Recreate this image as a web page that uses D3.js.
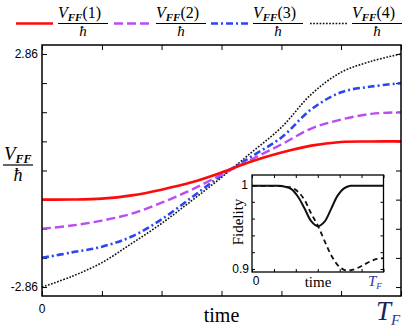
<!DOCTYPE html>
<html lang="en">
<head>
<meta charset="utf-8">
<title>VFF versus time</title>
<script src="https://cdn.jsdelivr.net/npm/d3@7"></script>
<style>
  body { margin: 0; background: #fff; }
  svg text { font-family: "Liberation Serif", "DejaVu Serif", serif; }
  .num { font-family: "Liberation Sans", Arial, sans-serif; font-size: 12px; }
</style>
</head>
<body>
<script>
// time as fraction of T_F
var timeFrac = [0, 0.083, 0.167, 0.25, 0.333, 0.417, 0.5, 0.583, 0.667, 0.75, 0.833, 0.917, 1];
var vff1 = [-0.715, -0.713, -0.69, -0.61, -0.47, -0.29, -0.05, 0.22, 0.44, 0.61, 0.70, 0.712, 0.715];
var vff2 = [-1.43, -1.35, -1.23, -1.06, -0.79, -0.47, -0.10, 0.27, 0.64, 1.03, 1.25, 1.39, 1.43];
var vff3 = [-2.145, -2.01, -1.87, -1.62, -1.20, -0.66, -0.12, 0.34, 0.81, 1.50, 1.92, 2.06, 2.145];
var vff4 = [-2.86, -2.60, -2.26, -1.79, -1.30, -0.74, -0.17, 0.44, 1.06, 1.87, 2.41, 2.68, 2.86];
var yTicks = [-2.86, -2.145, -1.43, -0.715, 0, 0.715, 1.43, 2.145, 2.86];
var xTicks = [0, 0.167, 0.333, 0.5, 0.667, 0.833, 1];

// inset: fidelity
var insetTime = [0, 0.05, 0.1, 0.15, 0.2, 0.25, 0.3, 0.35, 0.4, 0.45, 0.5, 0.55, 0.6, 0.65, 0.7, 0.75, 0.8, 0.85, 0.9, 0.95, 1];
var fidSolid = [0.999, 0.999, 0.999, 0.999, 0.999, 0.998, 0.995, 0.986, 0.972, 0.957, 0.951, 0.956, 0.971, 0.987, 0.996, 0.999, 0.999, 0.999, 0.999, 0.999, 0.999];
var fidDashed = [0.999, 0.999, 0.999, 0.999, 0.999, 0.998, 0.997, 0.992, 0.982, 0.966, 0.952, 0.934, 0.917, 0.905, 0.899, 0.8985, 0.901, 0.905, 0.909, 0.912, 0.913];
var insetYTicks = [0.9, 0.92, 0.94, 0.96, 0.98, 1];
var insetXTicks = [0, 0.167, 0.333, 0.5, 0.667, 0.833, 1];

var seriesNames = ["1", "2", "3", "4"];
var seriesData = [vff1, vff2, vff3, vff4];
var seriesColors = ["#ff0a0a", "#b94ef0", "#2b45f5", "#111111"];
var seriesDash = [null, "9,4", "7,3,2,3", "1.7,1.5"];
var seriesWidth = [2.6, 2.4, 2.6, 1.6];

var w = 408, h = 329;
var svg = d3.select("body").append("svg")
    .attr("width", w)
    .attr("height", h);

var x = d3.scaleLinear().domain([0, 1]).range([42, 401]);
var y = d3.scaleLinear().domain([-3.08, 3.08]).range([296, 45]);

// axes, ticks pointing inward on every side
function styleAxis(g) {
  g.select(".domain").remove();
  g.selectAll("line").attr("stroke", "#000").attr("stroke-width", 1);
  g.selectAll("text").remove();
}
svg.append("g").attr("transform", "translate(0,296)")
    .call(d3.axisBottom(x).tickValues(xTicks).tickSizeInner(-5).tickSizeOuter(0)).call(styleAxis);
svg.append("g").attr("transform", "translate(0,45)")
    .call(d3.axisTop(x).tickValues(xTicks).tickSizeInner(-5).tickSizeOuter(0)).call(styleAxis);
svg.append("g").attr("transform", "translate(42,0)")
    .call(d3.axisLeft(y).tickValues(yTicks).tickSizeInner(-5).tickSizeOuter(0)).call(styleAxis);
svg.append("g").attr("transform", "translate(401,0)")
    .call(d3.axisRight(y).tickValues(yTicks).tickSizeInner(-5).tickSizeOuter(0)).call(styleAxis);

// curves, red on top
var line = d3.line()
    .x(function (d) { return x(d[0]); })
    .y(function (d) { return y(d[1]); })
    .curve(d3.curveCatmullRom.alpha(0.5));

[3, 2, 1, 0].forEach(function (k) {
  var pts = timeFrac.map(function (t, i) { return [t, seriesData[k][i]]; });
  svg.append("path")
      .attr("d", line(pts))
      .attr("fill", "none")
      .attr("stroke", seriesColors[k])
      .attr("stroke-width", seriesWidth[k])
      .attr("stroke-dasharray", seriesDash[k]);
});

svg.append("rect")
    .attr("x", 42).attr("y", 45)
    .attr("width", 359).attr("height", 251)
    .attr("fill", "none").attr("stroke", "#000").attr("stroke-width", 1.5);

// tick labels
svg.append("text").attr("class", "num").attr("x", 38).attr("y", y(2.86) + 4)
    .attr("text-anchor", "end").text("2.86");
svg.append("text").attr("class", "num").attr("x", 38).attr("y", y(-2.86) + 4)
    .attr("text-anchor", "end").text("-2.86");
svg.append("text").attr("class", "num").attr("x", x(0)).attr("y", 313)
    .attr("text-anchor", "middle").text("0");
svg.append("text").attr("x", x(0.5)).attr("y", 322)
    .attr("text-anchor", "middle").attr("font-size", "20px").text("time");
var tf = svg.append("text").attr("x", 376).attr("y", 320)
    .attr("font-size", "27px").attr("font-style", "italic").attr("fill", "#1d2355");
tf.append("tspan").text("T");
tf.append("tspan").attr("font-size", "15px").attr("dy", 5).attr("fill", "#2a3aa0").text("F");

// y label: VFF over hbar
var yl = svg.append("text").attr("x", 4).attr("y", 160).attr("font-size", "19px");
yl.append("tspan").attr("font-style", "italic").text("V");
yl.append("tspan").attr("font-style", "italic").attr("font-weight", "bold")
    .attr("font-size", "12px").attr("dy", 3).text("FF");
svg.append("line").attr("x1", 3).attr("x2", 33).attr("y1", 165).attr("y2", 165)
    .attr("stroke", "#000").attr("stroke-width", 1.2);
svg.append("text").attr("x", 18).attr("y", 181).attr("text-anchor", "middle")
    .attr("font-size", "18px").attr("font-style", "italic").text("ħ");

// legend
var legendX = [16, 114, 211, 310];
seriesNames.forEach(function (name, k) {
  var lx = legendX[k];
  svg.append("line")
      .attr("x1", lx).attr("x2", lx + 37).attr("y1", 23.5).attr("y2", 23.5)
      .attr("stroke", seriesColors[k])
      .attr("stroke-width", seriesWidth[k])
      .attr("stroke-dasharray", seriesDash[k]);
  var fx = lx + 42;
  var t = svg.append("text").attr("x", fx).attr("y", 18).attr("font-size", "16px");
  t.append("tspan").attr("font-style", "italic").text("V");
  t.append("tspan").attr("font-style", "italic").attr("font-weight", "bold")
      .attr("font-size", "11px").attr("dy", 3).text("FF");
  t.append("tspan").attr("dy", -3).text("(" + name + ")");
  svg.append("line").attr("x1", fx).attr("x2", fx + 50).attr("y1", 23.5).attr("y2", 23.5)
      .attr("stroke", "#000").attr("stroke-width", 1);
  svg.append("text").attr("x", fx + 25).attr("y", 36).attr("text-anchor", "middle")
      .attr("font-size", "15px").attr("font-style", "italic").text("ħ");
});

// inset
var ix = d3.scaleLinear().domain([0, 1]).range([252, 383.5]);
var iy = d3.scaleLinear().domain([0.8964, 1.0119]).range([272, 175]);
var inset = svg.append("g");
inset.append("rect").attr("x", 252).attr("y", 175).attr("width", 131.5).attr("height", 97)
    .attr("fill", "#fff");
inset.append("g").attr("transform", "translate(0,272)")
    .call(d3.axisBottom(ix).tickValues(insetXTicks).tickSizeInner(-3).tickSizeOuter(0)).call(styleAxis);
inset.append("g").attr("transform", "translate(0,175)")
    .call(d3.axisTop(ix).tickValues(insetXTicks).tickSizeInner(-3).tickSizeOuter(0)).call(styleAxis);
inset.append("g").attr("transform", "translate(252,0)")
    .call(d3.axisLeft(iy).tickValues(insetYTicks).tickSizeInner(-3).tickSizeOuter(0)).call(styleAxis);
inset.append("g").attr("transform", "translate(383.5,0)")
    .call(d3.axisRight(iy).tickValues(insetYTicks).tickSizeInner(-3).tickSizeOuter(0)).call(styleAxis);

var iline = d3.line()
    .x(function (d) { return ix(d[0]); })
    .y(function (d) { return iy(d[1]); })
    .curve(d3.curveCatmullRom.alpha(0.5));
inset.append("path")
    .attr("d", iline(insetTime.map(function (t, i) { return [t, fidDashed[i]]; })))
    .attr("fill", "none").attr("stroke", "#111").attr("stroke-width", 1.8)
    .attr("stroke-dasharray", "5,3.5");
inset.append("path")
    .attr("d", iline(insetTime.map(function (t, i) { return [t, fidSolid[i]]; })))
    .attr("fill", "none").attr("stroke", "#111").attr("stroke-width", 2);
inset.append("rect").attr("x", 252).attr("y", 175).attr("width", 131.5).attr("height", 97)
    .attr("fill", "none").attr("stroke", "#000").attr("stroke-width", 1.3);

inset.append("text").attr("class", "num").attr("x", 248).attr("y", iy(1) + 4)
    .attr("text-anchor", "end").text("1");
inset.append("text").attr("class", "num").attr("x", 249).attr("y", iy(0.9) + 4)
    .attr("text-anchor", "end").text("0.9");
inset.append("text").attr("class", "num").attr("x", ix(0) + 4).attr("y", 285)
    .attr("text-anchor", "middle").text("0");
inset.append("text").attr("x", 318).attr("y", 287)
    .attr("text-anchor", "middle").attr("font-size", "15px").text("time");
var itf = inset.append("text").attr("x", 368).attr("y", 286)
    .attr("font-size", "15px").attr("font-style", "italic").attr("fill", "#2a3aa0");
itf.append("tspan").text("T");
itf.append("tspan").attr("font-size", "9px").attr("dy", 3).text("F");
inset.append("text")
    .attr("transform", "translate(243,222) rotate(-90)")
    .attr("text-anchor", "middle").attr("font-size", "15px").text("Fidelity");
</script>
</body>
</html>
